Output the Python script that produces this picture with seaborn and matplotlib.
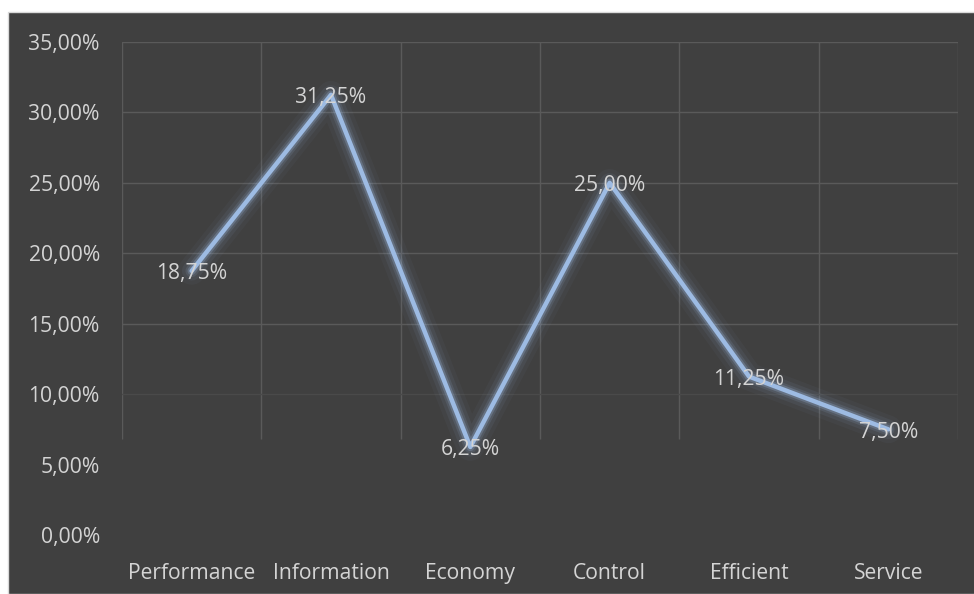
import matplotlib
matplotlib.use("Agg")
import matplotlib.pyplot as plt
import matplotlib.patheffects as pe
from matplotlib.patches import Rectangle
import seaborn as sns
import pandas as pd

categories = ["Performance", "Information", "Economy", "Control", "Efficient", "Service"]
values = [18.75, 31.25, 6.25, 25.00, 11.25, 7.50]
y_ticks = [0, 5, 10, 15, 20, 25, 30, 35]

df = pd.DataFrame({"category": categories, "value": values})

sns.set_theme(style="white")
plt.rcParams["font.family"] = ["Open Sans", "DejaVu Sans"]

BG = "#404040"
TXT = "#d4d4d4"
GRID = "#5a5a5a"
GRID_LOW = "#4a4a4a"
LINE = "#9dbbe3"
FS = 15.2

fig = plt.figure(figsize=(9.74, 5.94), dpi=100, facecolor="white")
fig.patches.append(Rectangle((8 / 974, 0), 1, 582 / 594, transform=fig.transFigure,
                             facecolor=BG, edgecolor="#d9d9d9", linewidth=1, zorder=-10))
ax = fig.add_axes([122 / 974, 59 / 594, 836 / 974, 493 / 594])
ax.set_facecolor(BG)
ax.patch.set_alpha(0)

x_pos = list(range(len(categories)))
sns.lineplot(data=df, x="category", y="value", sort=False, ax=ax, color=LINE,
             linewidth=3.2, zorder=5)
line = ax.lines[-1]
line.set_solid_capstyle("round")
line.set_solid_joinstyle("round")
line.set_path_effects([
    pe.Stroke(linewidth=20, foreground=LINE, alpha=0.04),
    pe.Stroke(linewidth=14, foreground=LINE, alpha=0.07),
    pe.Stroke(linewidth=9, foreground=LINE, alpha=0.12),
    pe.Stroke(linewidth=6, foreground=LINE, alpha=0.25),
    pe.Normal(),
])

for xi, v in zip(x_pos, values):
    ax.annotate(f"{v:.2f}%".replace(".", ","), (xi, v), xytext=(0, -2),
                textcoords="offset points", ha="center", va="center",
                color=TXT, fontsize=FS, zorder=6)

ax.set_xlim(-0.5, len(categories) - 0.5)
ax.set_ylim(0, 35)
ax.set_yticks(y_ticks)
ax.set_yticklabels([f"{t:.2f}%".replace(".", ",") for t in y_ticks])
ax.set_xticks(x_pos)
ax.set_xticklabels(categories)
for xb in [i + 0.5 for i in range(-1, len(categories))]:
    ax.vlines(xb, 6.8, 35, color=GRID, linewidth=1, zorder=1)
for t in y_ticks:
    if t >= 15:
        ax.axhline(t, color=GRID, linewidth=1, zorder=1)
    elif t == 10:
        ax.axhline(t, color=GRID_LOW, linewidth=1, zorder=1)

ax.tick_params(axis="both", colors=TXT, labelsize=FS, length=0)
ax.tick_params(axis="y", pad=16)
ax.tick_params(axis="x", pad=20)
ax.set_xlabel("")
ax.set_ylabel("")
for s in ax.spines.values():
    s.set_visible(False)

fig.savefig("out.png", dpi=100, facecolor="white")
